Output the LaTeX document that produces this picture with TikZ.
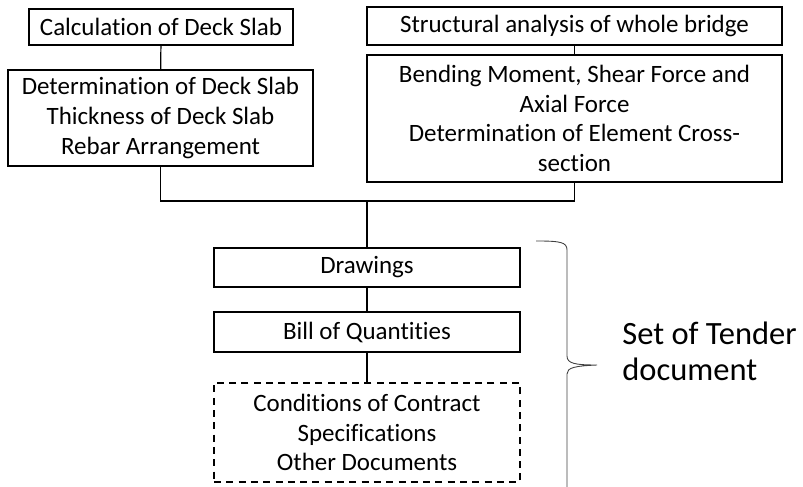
\documentclass[tikz,border=0pt]{standalone}
\usepackage{fontspec}
\setmainfont{Carlito}[Ligatures=NoCommon]
\usetikzlibrary{calc}

\begin{document}
\begin{tikzpicture}[
  block/.style={draw, line width=0.7pt, align=center, inner sep=0pt,
                font=\fontsize{14.2}{16.8}\selectfont},
  dblock/.style={block, dashed, dash pattern=on 4pt off 3pt},
  link/.style={draw, line width=0.7pt},
  lab/.style={align=left, inner sep=0pt, font=\fontsize{18.5}{20.5}\selectfont},
]
\useasboundingbox (0,0) rectangle (16.06,-9.74);

\node[block, minimum width=5.28cm, minimum height=0.72cm] (calc) at (3.22,-0.54)
  {Calculation of Deck Slab};
\node[block, minimum width=8.3cm, minimum height=0.76cm] (struct) at (11.49,-0.52)
  {Structural analysis of whole bridge};
\node[block, minimum width=6.1cm, minimum height=1.92cm] (deter) at (3.21,-2.36)
  {Determination of Deck Slab\\ Thickness of Deck Slab\\ Rebar Arrangement};
\node[block, minimum width=8.3cm, minimum height=2.54cm] (bend) at (11.49,-2.37)
  {Bending Moment, Shear Force and\\ Axial Force\\ Determination of Element Cross-\\ section};

\coordinate (join) at (7.34,-4.02);

\node[block, minimum width=6.12cm, minimum height=0.78cm] (drw) at (7.34,-5.35)
  {Drawings};
\node[block, minimum width=6.12cm, minimum height=0.8cm] (bill) at (7.34,-6.64)
  {Bill of Quantities};
\node[dblock, minimum width=6.12cm, minimum height=1.98cm] (other) at (7.34,-8.65)
  {Conditions of Contract\\ Specifications\\ Other Documents};

% connectors
\draw[link] (calc) -- (deter);
\draw[link] (struct) -- (bend);
\draw[link] (deter.south) |- (join) -| (bend.south);
\draw[link] (join) -- (drw.north);
\draw[link] (drw) -- (bill);
\draw[link] (bill) -- (other);

% brace round the tender documents
\coordinate (btop) at (10.72,-4.82);
\coordinate (btip) at (11.94,-7.30);
\coordinate (bend-low) at (11.34,-9.74);
\draw[line width=0.5pt, black!75]
  (btop) .. controls (11.2,-4.82) and (11.34,-4.84) .. (11.34,-5.0)
  -- (11.34,-7.12) .. controls (11.34,-7.27) and (11.5,-7.30) .. (btip)
  .. controls (11.5,-7.32) and (11.34,-7.35) .. (11.34,-7.48)
  -- (bend-low);
\node[lab, anchor=west] (tender) at (12.44,-7.02) {Set of Tender\\document};

\end{tikzpicture}
\end{document}
